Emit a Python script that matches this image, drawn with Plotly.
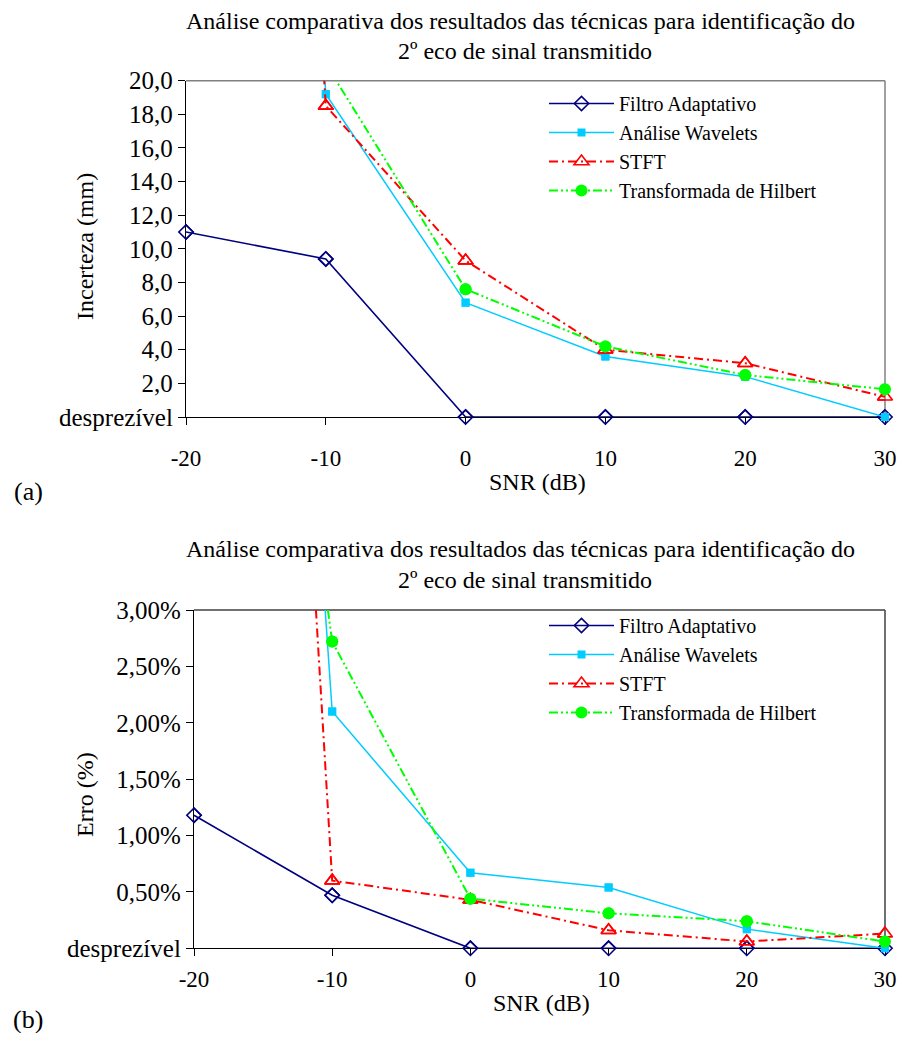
import plotly.graph_objects as go

# ---------------- data ----------------
snr = [-20, -10, 0, 10, 20, 30]
series_names = ["Filtro Adaptativo", "Análise Wavelets", "STFT", "Transformada de Hilbert"]

# (a) Incerteza (mm)  -- values above 20 are off the top of the chart
filtro_mm = [11.0, 9.4, 0.0, 0.0, 0.0, 0.0]
wavelets_mm = [150.0, 19.2, 6.8, 3.6, 2.4, 0.0]
stft_mm = [150.0, 18.5, 9.3, 4.0, 3.2, 1.2]
hilbert_mm = [100.0, 21.0, 7.6, 4.2, 2.5, 1.65]

# (b) Erro (%)  -- values above 3 % are off the top of the chart
filtro_pct = [1.18, 0.47, 0.0, 0.0, 0.0, 0.0]
wavelets_pct = [19.8, 2.10, 0.67, 0.54, 0.17, 0.0]
stft_pct = [21.0, 0.60, 0.43, 0.16, 0.06, 0.13]
hilbert_pct = [11.7, 2.72, 0.44, 0.31, 0.24, 0.06]

y_ticks_mm = [0, 2, 4, 6, 8, 10, 12, 14, 16, 18, 20]
y_ticktext_mm = ["desprezível", "2,0", "4,0", "6,0", "8,0", "10,0", "12,0", "14,0", "16,0", "18,0", "20,0"]
y_ticks_pct = [0, 0.5, 1.0, 1.5, 2.0, 2.5, 3.0]
y_ticktext_pct = ["desprezível", "0,50%", "1,00%", "1,50%", "2,00%", "2,50%", "3,00%"]
x_ticks = [-20, -10, 0, 10, 20, 30]
x_ticktext = ["-20", "-10", "0", "10", "20", "30"]

title_l1 = "Análise comparativa dos resultados das técnicas para identificação do"
title_l2 = "2º eco de sinal transmitido"

# ---------------- styles ----------------
FONT = "Liberation Serif"
VIEW_W, VIEW_H = 905, 1041
OFF = 8  # default page body margin
W, H = VIEW_W - OFF, VIEW_H - 2 * OFF

styles = [
    dict(line=dict(color="#000080", width=1.6),
         marker=dict(symbol="diamond-open", size=11, color="#000080", line=dict(width=1.6, color="#000080"))),
    dict(line=dict(color="#00CCFF", width=1.5),
         marker=dict(symbol="square", size=8, color="#00CCFF", line=dict(width=0))),
    dict(line=dict(color="#FF0000", width=2, dash="9px,4px,2px,4px"),
         marker=dict(symbol="triangle-up-open", size=13, color="#FF0000", line=dict(width=1.6, color="#FF0000"))),
    dict(line=dict(color="#00FF00", width=2, dash="9px,3px,2px,3px,2px,3px"),
         marker=dict(symbol="circle", size=12, color="#00FF00", line=dict(width=0))),
]

fig = go.Figure()


def add_panel(values, ymax, xa, ya, legend_name):
    for name, vals, st in zip(series_names, values, styles):
        # line + markers (clipped to the plot area), shown in legend
        fig.add_trace(go.Scatter(
            x=snr, y=vals, name=name, mode="lines+markers",
            line=st["line"], marker=st["marker"],
            xaxis=xa, yaxis=ya, legend=legend_name, cliponaxis=True,
        ))
        # in-range markers drawn unclipped (so markers at the axes are whole)
        xs = [x for x, v in zip(snr, vals) if v <= ymax]
        ys = [v for v in vals if v <= ymax]
        fig.add_trace(go.Scatter(
            x=xs, y=ys, mode="markers", marker=st["marker"], showlegend=False,
            xaxis=xa, yaxis=ya, cliponaxis=False, hoverinfo="skip",
        ))


add_panel([filtro_mm, wavelets_mm, stft_mm, hilbert_mm], 20, "x", "y", "legend")
add_panel([filtro_pct, wavelets_pct, stft_pct, hilbert_pct], 3, "x2", "y2", "legend2")


def px_x(p):
    return (p - OFF) / W


def px_y(p):
    return 1 - (p - OFF) / H


axis_common = dict(
    showgrid=False, zeroline=False, showline=True, linecolor="black", linewidth=1.3,
    ticks="outside", ticklen=7, tickcolor="black", tickwidth=1.3, layer="below traces",
)
xfont = dict(family=FONT, size=23, color="black")
yfont = dict(family=FONT, size=25, color="black")
legfont = dict(family=FONT, size=20, color="black")

# pixel geometry of the two plot areas (page pixels)
top = dict(x0=186, x1=885, y0=80.7, y1=417)
bot = dict(x0=194, x1=885, y0=610, y1=948.3)

fig.update_layout(
    width=W, height=H, margin=dict(l=0, r=0, t=0, b=0, autoexpand=False),
    paper_bgcolor="white", plot_bgcolor="white",
    xaxis=dict(domain=[px_x(top["x0"]), px_x(top["x1"])], range=[-20, 30], anchor="y",
               tickvals=x_ticks, ticktext=x_ticktext, ticklabelstandoff=13, tickfont=xfont, **axis_common),
    yaxis=dict(domain=[px_y(top["y1"]), px_y(top["y0"])], range=[0, 20], anchor="x",
               tickvals=y_ticks_mm, ticktext=y_ticktext_mm, tickfont=yfont, **axis_common),
    xaxis2=dict(domain=[px_x(bot["x0"]), px_x(bot["x1"])], range=[-20, 30], anchor="y2",
                tickvals=x_ticks, ticktext=x_ticktext, ticklabelstandoff=3, tickfont=xfont, **axis_common),
    yaxis2=dict(domain=[px_y(bot["y1"]), px_y(bot["y0"])], range=[0, 3], anchor="x2",
                tickvals=y_ticks_pct, ticktext=y_ticktext_pct, tickfont=yfont, **axis_common),
    legend=dict(x=px_x(544), y=px_y(84), xanchor="left", yanchor="top",
                font=legfont, itemwidth=65, bgcolor="rgba(0,0,0,0)", tracegroupgap=0),
    legend2=dict(x=px_x(544), y=px_y(606), xanchor="left", yanchor="top",
                 font=legfont, itemwidth=65, bgcolor="rgba(0,0,0,0)", tracegroupgap=0),
    showlegend=True,
)

# plot-area border (top and right edges)
for area, col in ((top, "#808080"), (bot, "#404040")):
    fig.add_shape(type="line", xref="paper", yref="paper", layer="below",
                  x0=px_x(area["x0"]), x1=px_x(area["x1"]), y0=px_y(area["y0"]), y1=px_y(area["y0"]),
                  line=dict(color=col, width=1.5))
    fig.add_shape(type="line", xref="paper", yref="paper", layer="below",
                  x0=px_x(area["x1"]), x1=px_x(area["x1"]), y0=px_y(area["y0"]), y1=px_y(area["y1"]),
                  line=dict(color=col, width=1.5))

ann = []


def text(x, y, s, size=22, angle=0):
    ann.append(dict(x=px_x(x), y=px_y(y), xref="paper", yref="paper", text=s, showarrow=False,
                    xanchor="center", yanchor="middle", textangle=angle,
                    font=dict(family=FONT, size=size, color="black")))


# titles
text(520, 21, title_l1, 24)
text(525, 51, title_l2, 24)
text(520, 549, title_l1, 24)
text(525, 580, title_l2, 24)
# axis titles
text(85, 247, "Incerteza (mm)", 24, -90)
text(537, 482, "SNR (dB)", 24)
text(85, 795, "Erro (%)", 24, -90)
text(541, 1003, "SNR (dB)", 24)
# panel labels
text(28, 491, "(a)", 26)
text(28, 1019, "(b)", 26)

fig.update_layout(annotations=ann)
fig.write_html("out.html")
